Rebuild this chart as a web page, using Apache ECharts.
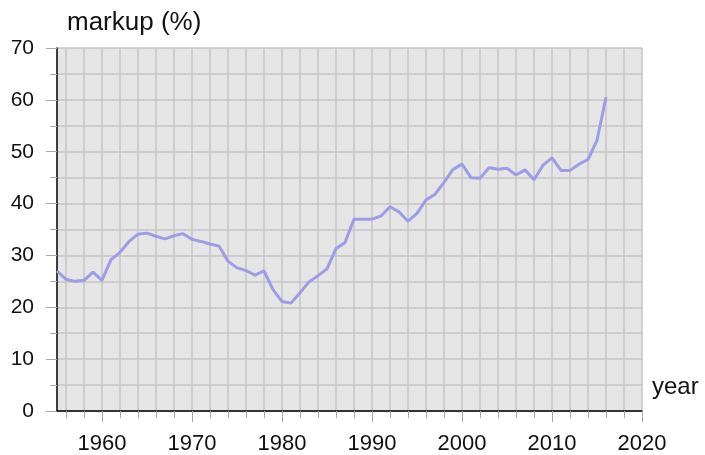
<!DOCTYPE html>
<html>
<head>
<meta charset="utf-8">
<script src="https://cdn.jsdelivr.net/npm/echarts@6/dist/echarts.min.js"></script>
<style>
  html, body { margin: 0; padding: 0; background: #ffffff; }
  #chart { width: 705px; height: 455px; }
</style>
</head>
<body>
<div id="chart"></div>
<script>
// Annual markup, percent
const years = [
  1955, 1956, 1957, 1958, 1959, 1960, 1961, 1962, 1963, 1964,
  1965, 1966, 1967, 1968, 1969, 1970, 1971, 1972, 1973, 1974,
  1975, 1976, 1977, 1978, 1979, 1980, 1981, 1982, 1983, 1984,
  1985, 1986, 1987, 1988, 1989, 1990, 1991, 1992, 1993, 1994,
  1995, 1996, 1997, 1998, 1999, 2000, 2001, 2002, 2003, 2004,
  2005, 2006, 2007, 2008, 2009, 2010, 2011, 2012, 2013, 2014,
  2015, 2016
];
const markup = [
  27.0, 25.4, 25.0, 25.2, 26.8, 25.2, 29.2, 30.6, 32.7, 34.1,
  34.3, 33.7, 33.2, 33.8, 34.2, 33.1, 32.7, 32.2, 31.8, 28.9,
  27.6, 27.1, 26.2, 27.0, 23.4, 21.1, 20.8, 22.8, 24.9, 26.1,
  27.4, 31.3, 32.5, 37.0, 37.0, 37.0, 37.6, 39.4, 38.4, 36.6,
  38.1, 40.7, 41.8, 44.1, 46.6, 47.6, 45.0, 44.9, 46.9, 46.6,
  46.8, 45.5, 46.5, 44.6, 47.4, 48.8, 46.4, 46.4, 47.6, 48.5,
  52.2, 60.5
];

// Axis ticks
const minorYearTicks = [
  1956, 1958, 1960, 1962, 1964, 1966, 1968, 1970, 1972, 1974,
  1976, 1978, 1980, 1982, 1984, 1986, 1988, 1990, 1992, 1994,
  1996, 1998, 2000, 2002, 2004, 2006, 2008, 2010, 2012, 2014,
  2016, 2018, 2020
];
const decadeTicks = [1960, 1970, 1980, 1990, 2000, 2010, 2020];
const yearRange = [1955, 2020];
const markupRange = [0, 70];

const FONT = '"Liberation Sans", Arial, Helvetica, sans-serif';
const GRID_COLOR = '#c4c4c4';
const TICK_COLOR = '#a8a8a8';

const chart = echarts.init(document.getElementById('chart'), null, { renderer: 'canvas' });

const baseX = {
  type: 'value',
  min: yearRange[0],
  max: yearRange[1],
  position: 'bottom',
  axisLine: { show: false, onZero: false },
  axisTick: { show: false },
  axisLabel: { show: false },
  splitLine: { show: false }
};

const baseY = {
  type: 'value',
  min: markupRange[0],
  max: markupRange[1],
  position: 'left',
  axisLine: { show: false, onZero: false },
  axisTick: { show: false },
  axisLabel: { show: false },
  splitLine: { show: false }
};

chart.setOption({
  animation: false,
  textStyle: { fontFamily: FONT },
  grid: {
    left: 57, top: 48, right: 63, bottom: 42,
    show: true, backgroundColor: '#e5e5e5', borderWidth: 0
  },
  xAxis: [
    // vertical grid lines every second year
    Object.assign({}, baseX, {
      interval: 1,
      axisLine: { show: true, onZero: false, lineStyle: { color: '#000', width: 1.5 } },
      splitLine: { show: true, lineStyle: { color: ['rgba(0,0,0,0)', GRID_COLOR], width: 1.5 } }
    }),
    // short ticks
    Object.assign({}, baseX, {
      axisTick: { show: true, customValues: minorYearTicks, length: 7, lineStyle: { color: TICK_COLOR, width: 1 } }
    }),
    // long ticks with labels
    Object.assign({}, baseX, {
      name: 'year',
      nameLocation: 'end',
      nameGap: 10,
      nameTextStyle: { fontSize: 24, color: '#111', fontFamily: FONT, verticalAlign: 'bottom', padding: [0, 0, 12, 0] },
      axisTick: { show: true, customValues: decadeTicks, length: 11, lineStyle: { color: TICK_COLOR, width: 1 } },
      axisLabel: {
        show: true, customValues: decadeTicks, fontSize: 22, color: '#111', margin: 22, fontFamily: FONT,
        formatter: (v) => String(v)
      }
    })
  ],
  yAxis: [
    Object.assign({}, baseY, {
      interval: 5,
      axisLine: { show: true, onZero: false, lineStyle: { color: '#000', width: 1.5 } },
      axisTick: { show: true, length: 7, lineStyle: { color: TICK_COLOR, width: 1 } },
      splitLine: { show: true, lineStyle: { color: GRID_COLOR, width: 1.5 } }
    }),
    Object.assign({}, baseY, {
      interval: 10,
      name: 'markup (%)',
      nameLocation: 'end',
      nameGap: 12,
      nameTextStyle: { fontSize: 26, color: '#111', fontFamily: FONT, align: 'left', padding: [0, 0, 0, 10] },
      axisTick: { show: true, length: 11, lineStyle: { color: TICK_COLOR, width: 1 } },
      axisLabel: { show: true, fontSize: 21, color: '#111', margin: 23, fontFamily: FONT }
    })
  ],
  series: [{
    type: 'line',
    xAxisIndex: 0,
    yAxisIndex: 0,
    data: years.map((y, i) => [y, markup[i]]),
    showSymbol: false,
    symbol: 'none',
    lineStyle: { color: '#9c9ce8', width: 3 },
    z: 3
  }]
});
</script>
</body>
</html>
